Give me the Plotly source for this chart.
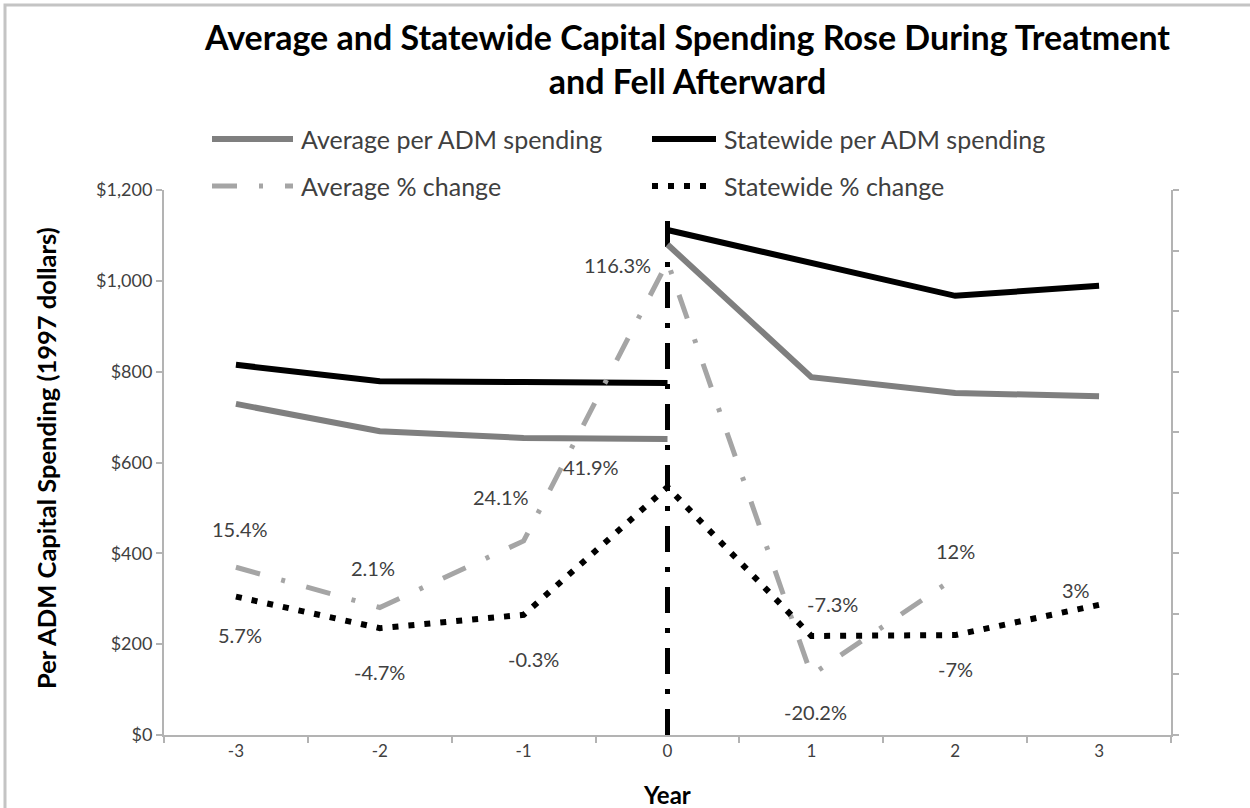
import plotly.graph_objects as go

# ---- data -------------------------------------------------------------
years = ["-3", "-2", "-1", "0", "1", "2", "3"]
pre_years = ["-3", "-2", "-1", "0"]
post_years = ["0", "1", "2", "3"]

avg_spend_pre = [729, 669, 654, 652]
avg_spend_post = [1080, 788, 753, 746]
state_spend_pre = [815, 779, 777, 775]
state_spend_post = [1112, 1041, 967, 989]

avg_pct = [15.4, 2.1, 24.1, 116.3, -20.2, 12.0, None]
state_pct = [5.7, -4.7, -0.3, 41.9, -7.3, -7.0, 3.0]

treatment_year = "0"
treatment_span = [0, 1160]

# ---- geometry / style -------------------------------------------------
W, H = 1250, 808
ML, MR, MT, MB = 164, 79, 190, 73
PW, PH = W - ML - MR, H - MT - MB

FONT = "Lato"
GRAY = "#7f7f7f"
LIGHT_GRAY = "#a5a5a5"
TEXT = "#404040"
AXIS = "#b3b3b3"


def px(x):
    return (x - ML) / PW


def py(y):
    return (H - MB - y) / PH


fig = go.Figure()

# treatment marker at year 0
fig.add_trace(go.Scatter(
    x=[treatment_year, treatment_year], y=treatment_span, mode="lines",
    line=dict(color="black", width=5, dash="26px,15px,5px,15px"),
    showlegend=False, hoverinfo="skip"))

# spending lines (broken at the treatment year)
for xs, ys in ((pre_years, avg_spend_pre), (post_years, avg_spend_post)):
    fig.add_trace(go.Scatter(x=xs, y=ys, mode="lines",
                             line=dict(color=GRAY, width=6),
                             name="Average per ADM spending", showlegend=False))
for xs, ys in ((pre_years, state_spend_pre), (post_years, state_spend_post)):
    fig.add_trace(go.Scatter(x=xs, y=ys, mode="lines",
                             line=dict(color="black", width=6),
                             name="Statewide per ADM spending", showlegend=False))

# percent-change lines on the secondary axis
fig.add_trace(go.Scatter(x=years, y=avg_pct, mode="lines", yaxis="y2",
                         line=dict(color=LIGHT_GRAY, width=5,
                                   dash="25px,22px,4px,22px"),
                         name="Average % change", showlegend=False))
fig.add_trace(go.Scatter(x=years, y=state_pct, mode="lines", yaxis="y2",
                         line=dict(color="black", width=6, dash="6px,10px"),
                         name="Statewide % change", showlegend=False))

# data labels for the percent-change series (x given as category index)
avg_offsets = [(4, 38), (-7, 40), (-23, 44), (-50, -3), (4, -37), (0, 27), (0, 0)]
state_offsets = [(4, -38), (0, -44), (10, -44), (-77, 20), (21, 32), (0, -34), (-23, 15)]
annotations = []
for series, offsets in ((avg_pct, avg_offsets), (state_pct, state_offsets)):
    for i, (v, (dx, dy)) in enumerate(zip(series, offsets)):
        if v is None:
            continue
        annotations.append(dict(
            x=i, y=v, xref="x", yref="y2", text=f"{v:g}%", showarrow=False,
            xshift=dx, yshift=dy, font=dict(family=FONT, size=20, color=TEXT)))

# legend drawn as line samples + labels
shapes = []
legend_rows = [
    [("Average per ADM spending", GRAY, 6, "solid", 212, 299),
     ("Statewide per ADM spending", "black", 6, "solid", 652, 722)],
    [("Average % change", LIGHT_GRAY, 5, "25px,22px,4px,22px", 212, 299),
     ("Statewide % change", "black", 6, "6px,10px", 652, 722)],
]
for row_y, row in zip((139, 186), legend_rows):
    for label, color, width, dash, x0, tx in row:
        shapes.append(dict(type="line", xref="paper", yref="paper",
                           x0=px(x0), x1=px(tx - 6), y0=py(row_y), y1=py(row_y),
                           line=dict(color=color, width=width, dash=dash)))
        annotations.append(dict(
            x=px(tx), y=py(row_y), xref="paper", yref="paper", text=label,
            showarrow=False, xanchor="left", yanchor="middle",
            font=dict(family=FONT, size=25, color=TEXT)))

# chart-area border
shapes.append(dict(type="rect", xref="paper", yref="paper",
                   x0=px(5), x1=px(1300), y0=py(5), y1=py(900),
                   line=dict(color="#c4c4c4", width=3), layer="below"))

# title and axis titles
annotations.append(dict(
    x=px(687), y=py(59), xref="paper", yref="paper", showarrow=False,
    text="<b>Average and Statewide Capital Spending Rose During Treatment"
         "<br>and Fell Afterward</b>", xanchor="center", yanchor="middle",
    font=dict(family=FONT, size=34, color="black")))
annotations.append(dict(
    x=px(46), y=py(458), xref="paper", yref="paper", showarrow=False,
    text="<b>Per ADM Capital Spending (1997 dollars)</b>", textangle=-90,
    xanchor="center", yanchor="middle",
    font=dict(family=FONT, size=25.5, color="black")))
annotations.append(dict(
    x=px(667), y=py(794), xref="paper", yref="paper", showarrow=False,
    text="<b>Year</b>", xanchor="center", yanchor="middle",
    font=dict(family=FONT, size=24, color="black")))

axis_common = dict(showgrid=False, zeroline=False, showline=True,
                   linecolor=AXIS, linewidth=2, ticks="outside",
                   tickcolor=AXIS, ticklen=6, tickwidth=2)

fig.update_layout(
    width=W, height=H,
    margin=dict(l=ML, r=MR, t=MT, b=MB),
    paper_bgcolor="white", plot_bgcolor="white",
    showlegend=False,
    xaxis=dict(type="category", categoryorder="array", categoryarray=years,
               range=[-0.5, len(years) - 0.5], tickson="boundaries",
               tickfont=dict(family=FONT, size=17, color=TEXT), **axis_common),
    yaxis=dict(range=[0, 1200], dtick=200, tickprefix="$", tickformat=",",
               tickfont=dict(family=FONT, size=18, color=TEXT), **axis_common),
    yaxis2=dict(overlaying="y", side="right", range=[-40, 140], dtick=20,
                showticklabels=False, **axis_common),
    shapes=shapes,
    annotations=annotations,
)

fig.write_html("out.html")
